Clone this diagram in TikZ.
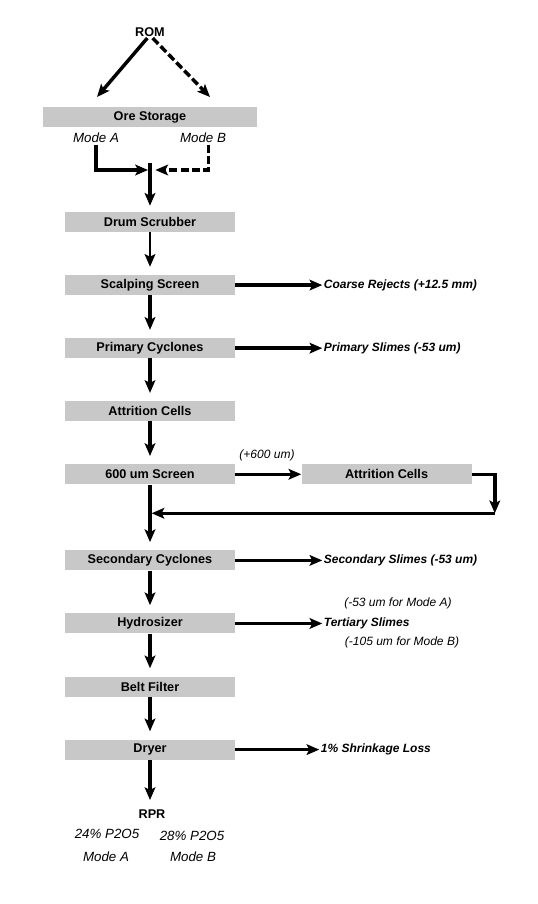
\documentclass[tikz,border=0pt]{standalone}
\usepackage{fontspec}
\setmainfont{Liberation Sans}
\usepackage{tikz}
\usetikzlibrary{positioning}
\usetikzlibrary{arrows.meta}
\definecolor{boxgray}{RGB}{200,200,200}

\begin{document}
\begin{tikzpicture}[x=0.75pt, y=-0.75pt,
                          procbox/.style={rectangle, fill=boxgray, minimum width=127.5pt, minimum height=15pt, inner sep=0pt, font=\fontsize{9.5}{10}\selectfont\bfseries},
                          outlabel/.style={inner sep=1pt, font=\fontsize{9}{10}\selectfont\bfseries\itshape},
                          note/.style={inner sep=1pt, font=\fontsize{9}{10}\selectfont\itshape},
                          modelabel/.style={inner sep=1pt, font=\fontsize{10}{12}\selectfont\itshape},
                          endlabel/.style={inner sep=1pt, font=\fontsize{9.5}{11}\selectfont\bfseries},
                          flow/.style={line width=2.6pt, -{Stealth[length=9.5pt, width=8pt, inset=2pt]}},
                          node distance=31.9pt
                      ]
                      \useasboundingbox (0,0) rectangle (537,904);
                      % Nodes
                      \node[endlabel]         (rom)        at (150,32)         {ROM};
                      \coordinate             (tipA)       at (97,97);
                      \coordinate             (tipB)       at (210,97);
                      \node[procbox, minimum width=160.5pt] (ore) at (150,117) {Ore Storage};
                      \node[modelabel]        (modeA)      at (96,138)         {Mode A};
                      \node[modelabel]        (modeB)      at (203,138)        {Mode B};
                      \coordinate             (merge)      at (150,170);

                      \node[procbox]          (drum)       at (150,222)        {Drum Scrubber};
                      \node[procbox]          (scalping)   [below=of drum]     {Scalping Screen};
                      \node[procbox]          (primary)    [below=of scalping] {Primary Cyclones};
                      \node[procbox]          (attrition)  [below=of primary]  {Attrition Cells};
                      \node[procbox]          (screen)     [below=of attrition] {600 um Screen};
                      \node[procbox]          (attrition_2) [right=49.5pt of screen] {Attrition Cells};
                      \node[note]             (oversize)   at (267,455)        {(+600 um)};
                      \node[procbox]          (secondary)  [below=49.2pt of screen] {Secondary Cyclones};
                      \node[procbox]          (hydro)      [below=of secondary] {Hydrosizer};
                      \node[procbox]          (belt)       [below=of hydro]    {Belt Filter};
                      \node[procbox]          (dryer)      [below=of belt]     {Dryer};

                      \node[outlabel]         (coarse)     [right=65.25pt of scalping]  {Coarse Rejects (+12.5 mm)};
                      \node[outlabel]         (slimes_1)   [right=65.25pt of primary]   {Primary Slimes (-53 um)};
                      \node[outlabel]         (slimes_2)   [right=65.25pt of secondary] {Secondary Slimes (-53 um)};
                      \node[outlabel]         (slimes_3)   [right=65.25pt of hydro]     {Tertiary Slimes};
                      \node[note]             (cut_A)      at (398,603)        {(-53 um for Mode A)};
                      \node[note]             (cut_B)      at (402,642)        {(-105 um for Mode B)};
                      \node[outlabel]         (shrink)     [right=63pt of dryer]        {1\% Shrinkage Loss};

                      \node[endlabel]         (rpr)        at (152,814)        {RPR};
                      \node[modelabel]        (grade_A)    at (107,834)        {24\% P2O5};
                      \node[modelabel]        (grade_B)    at (192,836)        {28\% P2O5};
                      \node[modelabel]        (rpr_A)      at (106,857)        {Mode A};
                      \node[modelabel]        (rpr_B)      at (193,857)        {Mode B};

                      %Lines
                      \draw[flow] ([xshift=-2pt]rom.south) -- (tipA);
                      \draw[flow, dash pattern=on 6pt off 2.5pt] ([xshift=2pt]rom.south) -- (tipB);
                      \draw[flow, shorten >=1.5pt] (modeA.south) |- (merge);
                      \draw[flow, dash pattern=on 6pt off 2.5pt, shorten >=4pt] ([xshift=4pt]modeB.south) |- (merge);
                      \draw[flow, shorten >=4.5pt] ([yshift=5pt]merge) -- (drum.north);
                      \draw[flow, line width=2pt, shorten >=6pt] (drum) -- (scalping);
                      \draw[flow, shorten >=6pt] (scalping) -- (primary);
                      \draw[flow, shorten >=6pt] (primary) -- (attrition);
                      \draw[flow, shorten >=6pt] (attrition) -- (screen);
                      \draw[flow, shorten >=6pt] (screen) -- (secondary);
                      \draw[flow, shorten >=6pt] (secondary) -- (hydro);
                      \draw[flow, shorten >=6pt] (hydro) -- (belt);
                      \draw[flow, shorten >=6pt] (belt) -- (dryer);
                      \draw[flow, shorten >=6pt] (dryer) -- (dryer |- rpr.north);
                      \draw[flow] (scalping) -- (coarse);
                      \draw[flow] (primary) -- (slimes_1);
                      \draw[flow] (secondary) -- (slimes_2);
                      \draw[flow] (hydro) -- (slimes_3);
                      \draw[flow] (dryer) -- (shrink);
                      \draw[flow] (screen) -- (attrition_2);
                      \draw[flow] (attrition_2.east) -- ++(23,0) coordinate (loop_corner) -- ++(0,39) coordinate (loop_end);
                      \draw[flow, shorten >=1.2pt] (loop_end) -- (loop_end -| screen.south);
                  \end{tikzpicture}
\end{document}
